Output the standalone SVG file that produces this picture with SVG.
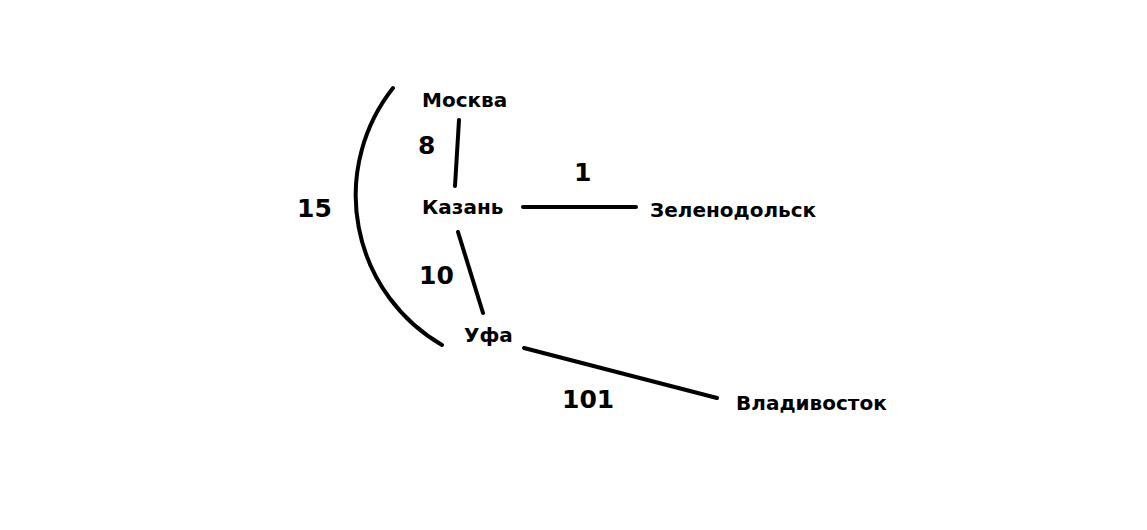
<svg xmlns="http://www.w3.org/2000/svg" width="1147" height="530" viewBox="0 0 1147 530">
<style>
.e{stroke:#000;stroke-width:4;fill:none;stroke-linecap:round}
.n{font-family:"DejaVu Sans",Verdana,sans-serif;font-weight:bold;font-size:20px;fill:#000}
.w{font-family:"DejaVu Sans",Verdana,sans-serif;font-weight:bold;font-size:25px;fill:#000}
</style>
<rect width="1147" height="530" fill="#fff"/>
<g id="connectors">
<path class="e" d="M 393 88 A 173 173 0 0 0 442 345"/>
<line class="e" x1="459" y1="120" x2="455" y2="186"/>
<line class="e" x1="458" y1="232" x2="483" y2="313"/>
<line class="e" x1="523" y1="207" x2="636" y2="207"/>
<line class="e" x1="524" y1="348" x2="717" y2="398"/>
<text class="w" x="297" y="217">15</text>
<text class="w" x="418" y="154">8</text>
<text class="w" x="419" y="284">10</text>
<text class="w" x="574" y="181">1</text>
<text class="w" x="562" y="408">101</text>
</g>
<g id="moskva"><text class="n" x="422" y="107">Москва</text></g>
<g id="kazan"><text class="n" x="422" y="214">Казань</text></g>
<g id="zelenodolsk"><text class="n" x="650" y="217">Зеленодольск</text></g>
<g id="ufa"><text class="n" x="464" y="342">Уфа</text></g>
<g id="vladivostok"><text class="n" x="736" y="410">Владивосток</text></g>
</svg>
